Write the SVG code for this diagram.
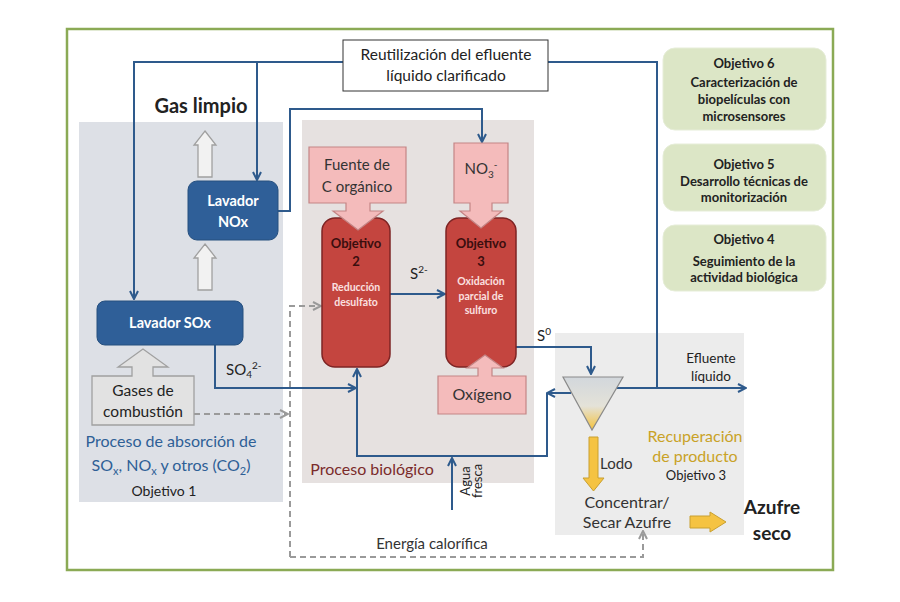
<svg xmlns="http://www.w3.org/2000/svg" width="900" height="602" viewBox="0 0 900 602">
<defs>
<style>
text{font-family:Lato,"Liberation Sans",sans-serif;}
.bl{fill:none;stroke:#2E5A8C;stroke-width:2;}
.dash{fill:none;stroke:#9A9A9A;stroke-width:2;stroke-dasharray:6,4;}
.hol{fill:#F2F2F2;stroke:#A0A0A0;stroke-width:1.3;}
.pink{fill:#F4BBBB;stroke:#C48585;stroke-width:1.2;}
.reac{fill:#C4453F;stroke:#7E2424;stroke-width:1.5;}
.lav{fill:#2F5F98;stroke:#26507F;stroke-width:1;}
.obj{fill:#DCE6C6;stroke:#E6EDD8;stroke-width:1;}
.c{text-anchor:middle;}
.w{fill:#fff;font-weight:bold;font-size:14.5px;text-anchor:middle;}
.ot{font-size:13px;font-weight:bold;fill:#222;text-anchor:middle;}
.rt{font-size:13px;font-weight:bold;fill:#3A0E0E;text-anchor:middle;}
.rs{font-size:10.5px;fill:#FBE0E0;text-anchor:middle;font-weight:bold;}
</style>
<marker id="ab" viewBox="0 0 10 10" refX="9" refY="5" markerWidth="10" markerHeight="10" markerUnits="userSpaceOnUse" orient="auto"><path d="M1,1 L9,5 L1,9" fill="none" stroke="#2E5A8C" stroke-width="2"/></marker>
<marker id="ag" viewBox="0 0 10 10" refX="9" refY="5" markerWidth="10" markerHeight="10" markerUnits="userSpaceOnUse" orient="auto"><path d="M1,1 L9,5 L1,9" fill="none" stroke="#9A9A9A" stroke-width="2"/></marker>
<linearGradient id="sg" x1="0" y1="0" x2="0" y2="1"><stop offset="0" stop-color="#D2D7DC"/><stop offset="0.55" stop-color="#E4E2D8"/><stop offset="1" stop-color="#F4C23C"/></linearGradient>
</defs>
<rect width="900" height="602" fill="#fff"/>
<rect x="67" y="29" width="766" height="541" fill="none" stroke="#8BAA55" stroke-width="2.5"/>

<g id="panels">
<rect x="79" y="122" width="204" height="380" fill="#DDE0E6"/>
<rect x="302" y="120" width="232" height="363" fill="#E6E1E0"/>
<rect x="555" y="333" width="189" height="202" fill="#ECECEC"/>
</g>

<g id="labels">
<text x="201" y="113" class="c" font-size="20" font-weight="bold" fill="#222">Gas limpio</text>
<text x="171" y="447" class="c" font-size="16" fill="#2E5F96">Proceso de absorción de</text>
<text x="171" y="471" class="c" font-size="16" fill="#2E5F96">SO<tspan font-size="11" dy="4">x</tspan><tspan dy="-4">, NO</tspan><tspan font-size="11" dy="4">x</tspan><tspan dy="-4"> y otros (CO</tspan><tspan font-size="11" dy="4">2</tspan><tspan dy="-4">)</tspan></text>
<text x="164" y="496" class="c" font-size="14" fill="#222">Objetivo 1</text>
<text x="372" y="475" class="c" font-size="16" fill="#7B2B2B">Proceso biológico</text>
<text x="695" y="442" class="c" font-size="16" fill="#C9A227">Recuperación</text>
<text x="695" y="462" class="c" font-size="16" fill="#C9A227">de producto</text>
<text x="696" y="480" class="c" font-size="13" fill="#222">Objetivo 3</text>
<text x="627" y="508" class="c" font-size="16" fill="#333">Concentrar/</text>
<text x="627" y="528" class="c" font-size="16" fill="#333">Secar Azufre</text>
<text x="772" y="514" class="c" font-size="19" font-weight="bold" fill="#222">Azufre</text>
<text x="772" y="540" class="c" font-size="19" font-weight="bold" fill="#222">seco</text>
<text x="711" y="363" class="c" font-size="13.5" fill="#222">Efluente</text>
<text x="711" y="381" class="c" font-size="13.5" fill="#222">líquido</text>
<text x="600" y="469" font-size="15" fill="#333">Lodo</text>
<text x="432" y="549" class="c" font-size="15" fill="#333">Energía calorífica</text>
<text x="226" y="375" font-size="15" fill="#222">SO<tspan font-size="10" dy="3">4</tspan><tspan font-size="10" dy="-9">2-</tspan></text>
<text x="410" y="279" font-size="15" fill="#222">S<tspan font-size="10" dy="-6">2-</tspan></text>
<text x="537" y="341" font-size="15" fill="#222">S<tspan font-size="10" dy="-6">0</tspan></text>
<g transform="translate(470,481) rotate(-90)"><text x="0" y="0" class="c" font-size="13" fill="#222">Agua</text><text x="0" y="12" class="c" font-size="13" fill="#222">fresca</text></g>
</g>

<g id="connectors">
<path class="bl" d="M343,62 L134,62 L134,299" marker-end="url(#ab)"/>
<path class="bl" d="M257,62 L257,180" marker-end="url(#ab)"/>
<path class="bl" d="M548,62 L657,62 L657,388"/>
<path class="bl" d="M278,211 L290,211 L290,109 L482,109 L482,142" marker-end="url(#ab)"/>
<path class="bl" d="M215,345 L215,388 L356,388" marker-end="url(#ab)"/>
<path class="bl" d="M571,393 L547,393" marker-end="url(#ab)"/>
<path class="bl" d="M547,393 L547,456 L357,456 L357,369" marker-end="url(#ab)"/>
<path class="bl" d="M452,510 L452,458" marker-end="url(#ab)"/>
<path class="bl" d="M390,294 L445,294" marker-end="url(#ab)"/>
<path class="bl" d="M516,347 L591,347 L591,374" marker-end="url(#ab)"/>
<path class="bl" d="M617,388 L746,388" marker-end="url(#ab)"/>
<path class="dash" d="M194,414 L288,414" marker-end="url(#ag)"/>
<path class="dash" d="M290,557 L290,306 L321,306" marker-end="url(#ag)"/>
<path class="dash" d="M290,557 L643,557 L643,531" marker-end="url(#ag)"/>
<path class="hol" d="M205,131 L216,145 L212,145 L212,177 L198,177 L198,145 L194,145 Z"/>
<path class="hol" d="M205,244 L216,258 L212,258 L212,290 L198,290 L198,258 L194,258 Z"/>
<path d="M589,437 L598,437 L598,478 L604,478 L593.5,491 L583,478 L589,478 Z" fill="#F5C342" stroke="#C9A030" stroke-width="1"/>
<path d="M690,516 L710,516 L710,512 L726,522 L710,532 L710,528 L690,528 Z" fill="#F5C342" stroke="#C9A030" stroke-width="1"/>
</g>

<g id="reutilizacion">
<rect x="343" y="40" width="205" height="51" fill="#fff" stroke="#333" stroke-width="1"/>
<text x="446" y="60" class="c" font-size="15.5" fill="#222">Reutilización del efluente</text>
<text x="446" y="81" class="c" font-size="15.5" fill="#222">líquido clarificado</text>
</g>

<g id="lavador-nox">
<rect class="lav" x="188" y="181" width="90" height="59" rx="9"/>
<text x="233" y="206" class="w">Lavador</text>
<text x="233" y="227" class="w">NOx</text>
</g>

<g id="lavador-sox">
<rect class="lav" x="97" y="301" width="146" height="44" rx="8"/>
<text x="170" y="328" class="w">Lavador SOx</text>
</g>

<g id="gases">
<path d="M92,376 L132,376 L132,367 L118,367 L143,349 L168,367 L153,367 L153,376 L194,376 L194,425 L92,425 Z" fill="#E2E2E2" stroke="#A0A0A0" stroke-width="1.3"/>
<text x="143" y="396" class="c" font-size="15.5" fill="#222">Gases de</text>
<text x="143" y="417" class="c" font-size="15.5" fill="#222">combustión</text>
</g>

<g id="reactor2">
<rect class="reac" x="322" y="218" width="68" height="149" rx="13"/>
<text x="356" y="248" class="rt">Objetivo</text>
<text x="356" y="266" class="rt">2</text>
<text x="356" y="291" class="rs">Reducción</text>
<text x="356" y="306" class="rs">desulfato</text>
</g>

<g id="reactor3">
<rect class="reac" x="446" y="218" width="70" height="149" rx="13"/>
<text x="481" y="248" class="rt">Objetivo</text>
<text x="481" y="266" class="rt">3</text>
<text x="481" y="285" class="rs">Oxidación</text>
<text x="481" y="300" class="rs">parcial de</text>
<text x="481" y="314" class="rs">sulfuro</text>
</g>

<g id="fuente">
<path class="pink" d="M309,147 L406,147 L406,203 L370,203 L370,211 L383,211 L358,230 L333,211 L346,211 L346,203 L309,203 Z"/>
<text x="357" y="170" class="c" font-size="15" fill="#333">Fuente de</text>
<text x="357" y="192" class="c" font-size="15" fill="#333">C orgánico</text>
</g>

<g id="no3">
<path class="pink" d="M454,143 L508,143 L508,203 L492,203 L492,211 L502,211 L481,228 L460,211 L470,211 L470,203 L454,203 Z"/>
<text x="481" y="174" class="c" font-size="15" fill="#333">NO<tspan font-size="10" dy="4">3</tspan><tspan font-size="10" dy="-10">-</tspan></text>
</g>

<g id="oxigeno">
<path class="pink" d="M438,376 L478,376 L478,368 L467,368 L485,355 L503,368 L492,368 L492,376 L526,376 L526,414 L438,414 Z"/>
<text x="482" y="400" class="c" font-size="16" fill="#333">Oxígeno</text>
</g>

<g id="settler">
<path d="M563,377 L623,377 L592,430 Z" fill="url(#sg)" stroke="#8A8A8A" stroke-width="1.2"/>
</g>

<g id="obj6">
<rect class="obj" x="663" y="48" width="163" height="82" rx="12"/>
<text x="744" y="68" class="ot">Objetivo 6</text>
<text x="744" y="87" class="ot">Caracterización de</text>
<text x="744" y="104" class="ot">biopelículas con</text>
<text x="744" y="121" class="ot">microsensores</text>
</g>
<g id="obj5">
<rect class="obj" x="663" y="144" width="163" height="67" rx="12"/>
<text x="744" y="169" class="ot">Objetivo 5</text>
<text x="744" y="186" class="ot">Desarrollo técnicas de</text>
<text x="744" y="202" class="ot">monitorización</text>
</g>
<g id="obj4">
<rect class="obj" x="663" y="225" width="163" height="66" rx="12"/>
<text x="744" y="244" class="ot">Objetivo 4</text>
<text x="744" y="266" class="ot">Seguimiento de la</text>
<text x="744" y="282" class="ot">actividad biológica</text>
</g>
</svg>
